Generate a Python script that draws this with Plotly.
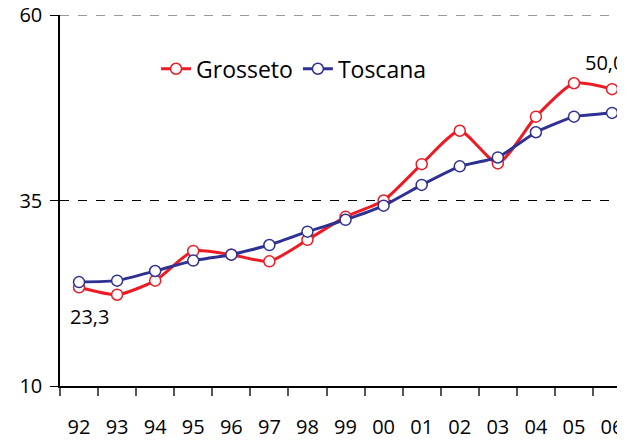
import plotly.graph_objects as go

years = ["92", "93", "94", "95", "96", "97", "98", "99", "00", "01", "02", "03", "04", "05", "06"]
grosseto = [23.3, 22.3, 24.2, 28.2, 27.7, 26.8, 29.7, 32.8, 35.0, 39.9, 44.4, 40.0, 46.3, 50.8, 50.0]
toscana = [24.0, 24.2, 25.5, 26.9, 27.7, 29.0, 30.8, 32.4, 34.3, 37.1, 39.6, 40.8, 44.2, 46.3, 46.8]
y_ticks = [10, 35, 60]

RED = "#ed1c24"
BLUE = "#2e3192"
FONT = "Open Sans"

fig = go.Figure()
fig.add_trace(go.Scatter(
    x=years, y=grosseto, name="Grosseto", mode="lines+markers",
    line=dict(color=RED, width=3, shape="spline", smoothing=0.6),
    marker=dict(symbol="circle", size=11, color="white", line=dict(color=RED, width=1.5)),
))
fig.add_trace(go.Scatter(
    x=years, y=toscana, name="Toscana", mode="lines+markers",
    line=dict(color=BLUE, width=3, shape="spline", smoothing=0.4),
    marker=dict(symbol="circle", size=11, color="white", line=dict(color=BLUE, width=1.5)),
))

# top dashed reference line at the maximum tick
fig.add_shape(type="line", xref="paper", x0=0, x1=1, yref="y", y0=y_ticks[-1], y1=y_ticks[-1],
              line=dict(color="#777", width=1.5, dash="dash"))

fig.add_annotation(x=0, y=grosseto[0], text="23,3", showarrow=False,
                   xshift=10, yshift=-29, font=dict(size=20, color="black", family=FONT))
fig.add_annotation(x=len(years) - 1, y=grosseto[-1], text="50,0", showarrow=False,
                   xshift=-8, yshift=27, font=dict(size=20, color="black", family=FONT))

# page body has an ~8px default margin; size the figure to fill the rest of the window
fig.update_layout(
    width=617, height=433,
    margin=dict(l=52, r=0, t=7, b=55, autoexpand=False),
    paper_bgcolor="white", plot_bgcolor="white",
    font=dict(family=FONT, size=19, color="black"),
    showlegend=True,
    legend=dict(orientation="h", x=0.17, xanchor="left", y=0.855, yanchor="middle",
                font=dict(size=23, family=FONT), bgcolor="rgba(0,0,0,0)",
                itemwidth=30, tracegroupgap=0),
    xaxis=dict(type="category", range=[-0.5, 14.34], showline=True, linecolor="black",
               linewidth=1.5, ticks="outside", tickson="boundaries", ticklen=8,
               tickcolor="#555", tickwidth=1.5, showgrid=False, ticklabelstandoff=22,
               tickfont=dict(size=20), automargin=False, ticklabeloverflow="allow"),
    yaxis=dict(range=[10, 60], tickvals=y_ticks, showline=True, linecolor="black",
               linewidth=1.5, ticks="outside", ticklen=8, tickcolor="black",
               showgrid=True, gridcolor="black", griddash="dash", gridwidth=1,
               zeroline=False, tickfont=dict(size=20), ticklabelstandoff=4, automargin=False,
               ticklabeloverflow="allow"),
)

fig.write_html("out.html")
